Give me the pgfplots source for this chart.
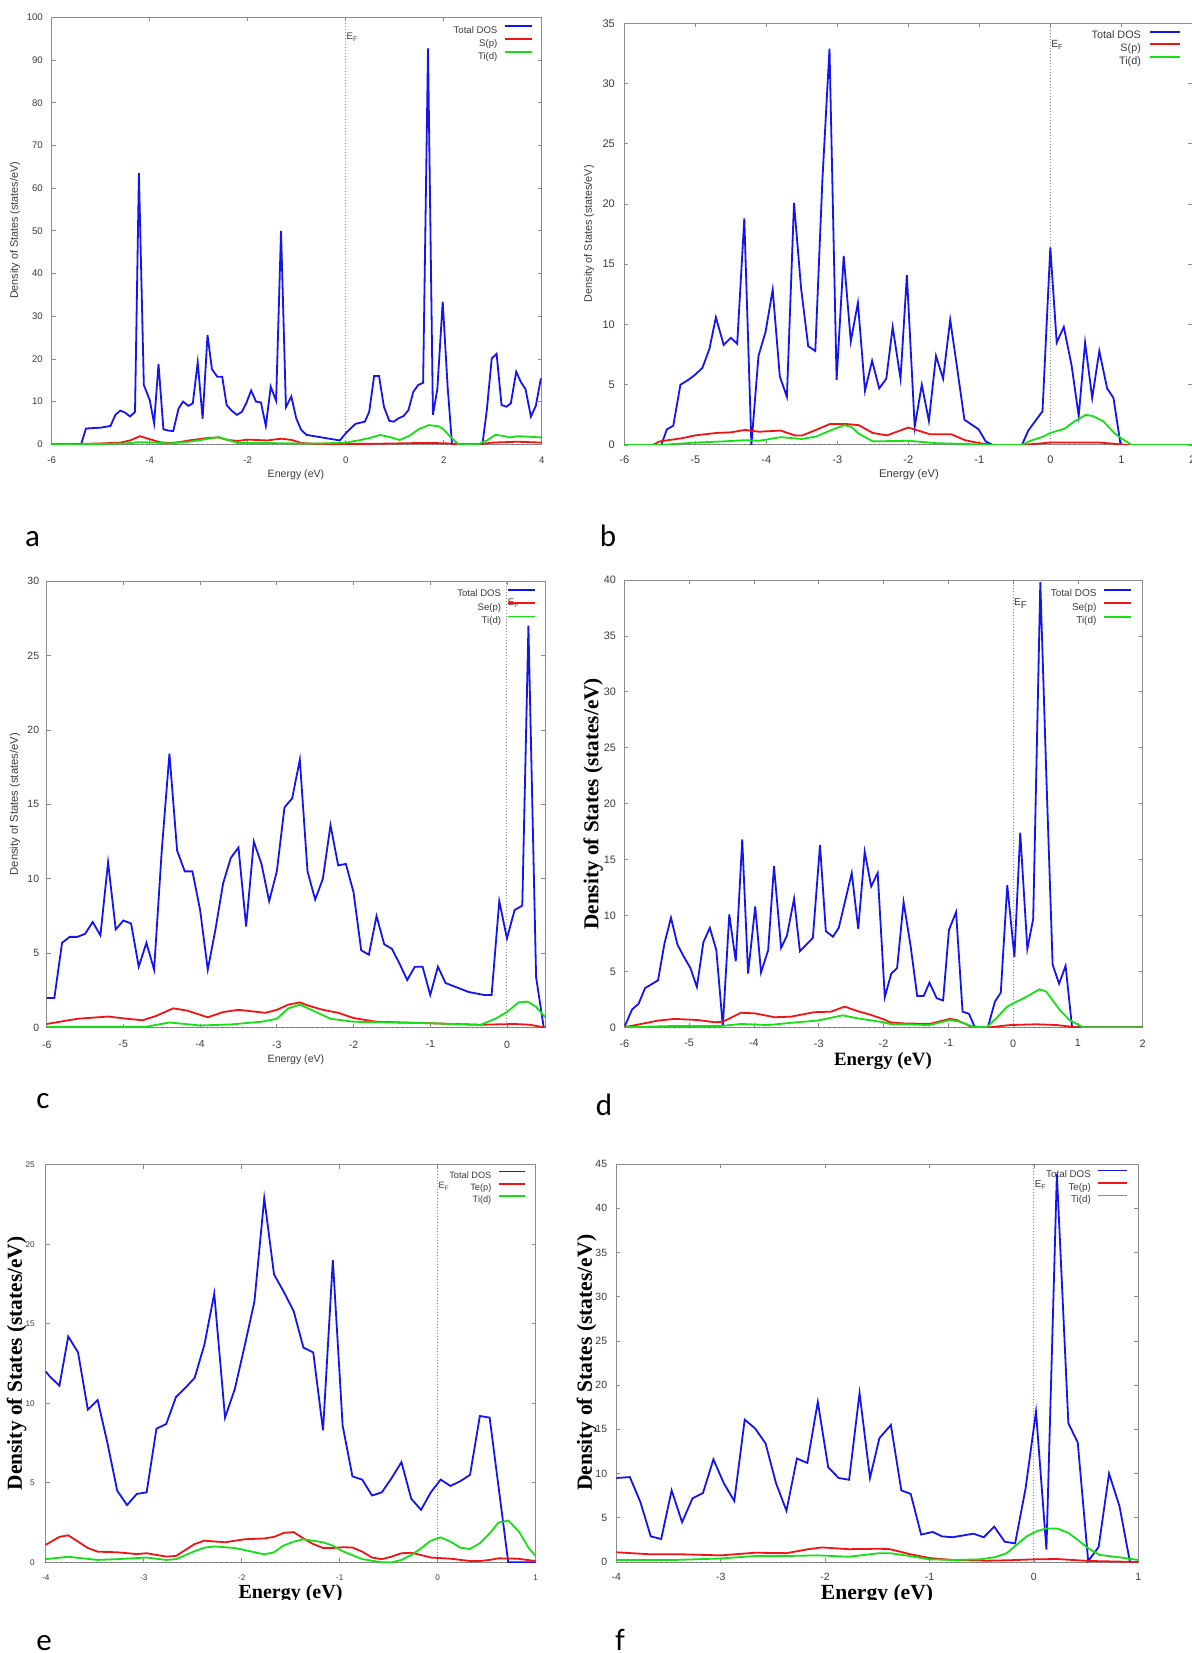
\documentclass[border=0pt]{standalone}
\usepackage{fontspec}
\setmainfont{Liberation Sans}
\newfontfamily\tnr{Liberation Serif}
\newfontfamily\carlito{Carlito}
\usepackage{pgfplots}
\pgfplotsset{compat=1.18}

\definecolor{dosblue}{HTML}{1414F0}
\definecolor{dosred}{HTML}{F01414}
\definecolor{dosgreen}{HTML}{14E014}
\definecolor{framegray}{HTML}{8C8C8C}
\definecolor{ticktext}{HTML}{3A3A3A}

\newcommand{\fs}[1]{\fontsize{#1}{#1}\selectfont}

\pgfplotsset{
  gnu/.style={
    scale only axis, anchor=north west,
    axis line style={draw=framegray, line width=0.5pt},
    every tick/.style={draw=framegray, line width=0.4pt},
    tick align=inside, major tick length=2pt,
    /pgf/number format/assume math mode=true,
    ticklabel style={text=ticktext},
    legend cell align=right, legend plot pos=right,
    legend style={draw=none, fill=none, inner sep=0pt, outer sep=0pt, anchor=north east,
      nodes={inner sep=0pt, text height=0.75em, text depth=0.25em, text=ticktext}},
  },
  gleg/.style n args={6}{
    legend style={at={(#1,#2)}, font=\fs{#3}, column sep=#5, row sep=#6},
    legend image code/.code={\draw[##1, line width=0.9pt] (0pt,0.1em) -- (#4,0.1em);}},
  tot/.style={dosblue, line width=0.9pt},
  pp/.style={dosred, line width=0.9pt},
  td/.style={dosgreen, line width=0.9pt},
  ef/.style={forget plot, framegray, line width=0.5pt, densely dotted},
  zl/.style={forget plot, black!60, line width=0.5pt, dotted},
}

\begin{document}
\begin{tikzpicture}
\useasboundingbox (0pt,0pt) rectangle (596pt,-826.5pt);

% ---------- a : S, -6..4
\begin{axis}[gnu, at={(25.85pt,-8.65pt)}, width=245pt, height=213.5pt,
  xmin=-6, xmax=4, ymin=0, ymax=100,
  xtick={-6,-4,...,4}, ytick={0,10,...,100},
  ticklabel style={font=\fs{4.8}},
  xticklabel style={yshift=-2.6pt}, yticklabel style={xshift=-0.9pt},
  gleg={0.9812}{0.998}{4.8}{13.35pt}{3.3pt}{-3.45pt}]
\addplot[ef] coordinates {(0,0) (0,100)};
\addplot[zl] coordinates {(-6,0) (4,0)};
\addplot[tot] coordinates {(-6,0) (-5.4,0) (-5.3,3.7) (-5.0,3.9) (-4.8,4.3) (-4.7,6.9) (-4.6,7.9) (-4.5,7.4) (-4.4,6.5) (-4.3,7.6) (-4.22,63.5) (-4.12,13.9) (-4.0,10.4) (-3.91,4.9) (-3.82,18.8) (-3.72,3.5) (-3.61,3.2) (-3.52,3.1) (-3.41,8.4) (-3.32,10.0) (-3.21,9.0) (-3.12,9.6) (-3.02,19.2) (-2.92,6.0) (-2.82,25.6) (-2.73,17.6) (-2.62,15.8) (-2.52,15.8) (-2.43,9.2) (-2.33,7.9) (-2.22,6.9) (-2.12,7.6) (-2.03,9.6) (-1.93,12.6) (-1.83,10.0) (-1.73,9.8) (-1.63,4.3) (-1.53,13.5) (-1.42,10.2) (-1.32,50.0) (-1.22,8.7) (-1.11,11.2) (-1.01,6.1) (-0.91,3.4) (-0.80,2.2) (-0.12,0.9) (0.01,2.7) (0.2,4.8) (0.39,5.3) (0.48,7.6) (0.58,16.0) (0.68,16.0) (0.78,8.8) (0.89,5.5) (0.98,5.3) (1.08,6.1) (1.18,6.6) (1.28,8.0) (1.38,12.3) (1.48,13.9) (1.58,14.4) (1.68,92.7) (1.78,6.9) (1.87,12.9) (1.98,33.4) (2.08,13.5) (2.17,0) (2.79,0) (2.88,8.0) (2.98,20.1) (3.08,21.2) (3.18,9.2) (3.28,8.8) (3.37,9.6) (3.48,17.0) (3.57,14.7) (3.67,12.9) (3.78,6.5) (3.88,9.0) (3.98,15.2) (4.0,15.4)};
\addplot[pp] coordinates {(-6,0) (-5.6,0) (-5.4,0.1) (-5.0,0.2) (-4.6,0.4) (-4.4,0.9) (-4.2,1.9) (-4.0,1.2) (-3.8,0.5) (-3.6,0.3) (-3.4,0.5) (-3.2,0.9) (-3.0,1.2) (-2.8,1.5) (-2.6,1.6) (-2.4,1.0) (-2.2,0.8) (-2.0,1.1) (-1.8,1.0) (-1.6,0.9) (-1.4,1.2) (-1.3,1.3) (-1.1,1.0) (-0.9,0.3) (-0.6,0.1) (0,0.1) (0.5,0.1) (1.0,0.2) (1.5,0.3) (1.8,0.3) (2.1,0.2) (2.3,0) (2.7,0) (3.0,0.4) (3.5,0.6) (4.0,0.4)};
\addplot[td] coordinates {(-6,0) (-5.6,0) (-5.0,0.1) (-4.5,0.2) (-4.2,0.5) (-3.9,0.4) (-3.6,0.2) (-3.2,0.6) (-2.9,1.1) (-2.6,1.7) (-2.4,1.0) (-2.2,0.3) (-1.6,0.3) (-1.0,0.2) (-0.5,0.2) (0.0,0.4) (0.3,1.0) (0.5,1.5) (0.7,2.2) (0.9,1.7) (1.1,1.0) (1.3,2.0) (1.5,3.6) (1.7,4.5) (1.9,4.2) (2.0,3.5) (2.1,2.2) (2.3,0) (2.7,0) (2.9,1.0) (3.05,2.2) (3.2,2.0) (3.35,1.6) (3.5,1.9) (3.7,1.8) (4.0,1.6)};
\legend{Total DOS, S(p), Ti(d)}
\node[anchor=west, inner sep=0.3pt, font=\fs{4.8}, text=ticktext] at (axis cs:0,95.4) {E\textsubscript{F}};
\end{axis}

% ---------- b : S, -6..2
\begin{axis}[gnu, at={(312.15pt,-11.65pt)}, width=284pt, height=210.85pt,
  xmin=-6, xmax=2, ymin=0, ymax=35,
  xtick={-6,...,2}, ytick={0,5,...,35},
  ticklabel style={font=\fs{5.5}},
  xticklabel style={yshift=-2pt}, yticklabel style={xshift=-1.2pt},
  gleg={0.9795}{0.9991}{5.4}{15pt}{4pt}{-3.65pt}]
\addplot[ef] coordinates {(0,0) (0,35)};
\addplot[zl] coordinates {(-6,0) (2,0)};
\addplot[tot] coordinates {(-6,0) (-5.48,0) (-5.4,1.3) (-5.31,1.6) (-5.21,5.0) (-5.1,5.4) (-5.01,5.8) (-4.9,6.4) (-4.8,8.0) (-4.71,10.6) (-4.6,8.3) (-4.5,8.9) (-4.41,8.4) (-4.31,18.8) (-4.21,0) (-4.11,7.4) (-4.01,9.4) (-3.91,12.9) (-3.81,5.7) (-3.71,4.0) (-3.61,20.1) (-3.51,13.0) (-3.41,8.2) (-3.31,7.8) (-3.21,22.0) (-3.11,32.9) (-3.01,5.4) (-2.91,15.7) (-2.81,8.6) (-2.71,11.8) (-2.61,4.5) (-2.51,7.0) (-2.41,4.7) (-2.31,5.5) (-2.22,9.8) (-2.11,5.5) (-2.02,14.1) (-1.91,1.5) (-1.81,5.0) (-1.71,2.0) (-1.61,7.4) (-1.51,5.5) (-1.41,10.4) (-1.31,6.3) (-1.21,2.1) (-1.11,1.7) (-1.01,1.3) (-0.91,0.3) (-0.81,0) (-0.40,0) (-0.31,1.2) (-0.21,2.0) (-0.11,2.8) (0.0,16.4) (0.09,8.5) (0.19,9.8) (0.30,6.6) (0.40,2.4) (0.49,8.5) (0.59,3.9) (0.69,7.8) (0.80,4.7) (0.89,3.9) (0.99,0) (2,0)};
\addplot[pp] coordinates {(-6,0) (-5.6,0) (-5.5,0.3) (-5.2,0.55) (-5.0,0.8) (-4.7,1.0) (-4.5,1.05) (-4.3,1.25) (-4.1,1.1) (-3.8,1.2) (-3.6,0.8) (-3.5,0.78) (-3.3,1.25) (-3.1,1.75) (-2.9,1.75) (-2.7,1.65) (-2.5,1.0) (-2.3,0.8) (-2.0,1.45) (-1.7,0.9) (-1.4,0.9) (-1.2,0.4) (-1.0,0.15) (-0.8,0) (-0.4,0) (-0.2,0.1) (0.0,0.2) (0.7,0.2) (1.0,0.05) (1.1,0) (2,0)};
\addplot[td] coordinates {(-6,0) (-5.5,0) (-5.0,0.2) (-4.6,0.3) (-4.3,0.4) (-4.1,0.35) (-3.8,0.65) (-3.5,0.5) (-3.3,0.7) (-3.1,1.2) (-2.9,1.65) (-2.8,1.5) (-2.7,0.95) (-2.5,0.3) (-2.0,0.35) (-1.6,0.15) (-1.0,0.05) (-0.8,0) (-0.4,0) (-0.3,0.3) (-0.1,0.7) (0.0,1.0) (0.2,1.35) (0.35,2.0) (0.5,2.5) (0.6,2.4) (0.75,1.95) (0.9,1.0) (1.0,0.55) (1.15,0) (2,0)};
\legend{Total DOS, S(p), Ti(d)}
\node[anchor=west, inner sep=0.3pt, font=\fs{5.2}, text=ticktext] at (axis cs:0,33.2) {E\textsubscript{F}};
\end{axis}

% ---------- c : Se, -6..0.5
\begin{axis}[gnu, at={(23.35pt,-290.5pt)}, width=249.3pt, height=223.35pt,
  xmin=-6, xmax=0.5, ymin=0, ymax=30,
  xtick={-6,...,0}, ytick={0,5,...,30},
  ticklabel style={font=\fs{5.25}},
  xticklabel style={yshift=-3pt}, yticklabel style={xshift=-0.25pt},
  gleg={0.9805}{0.9982}{4.8}{13.35pt}{3pt}{-3.35pt}]
\addplot[ef] coordinates {(0,0) (0,30)};
\addplot[zl] coordinates {(-6,0) (0.5,0)};
\addplot[tot] coordinates {(-6,2.0) (-5.9,2.0) (-5.8,5.7) (-5.7,6.1) (-5.6,6.1) (-5.5,6.3) (-5.4,7.1) (-5.3,6.2) (-5.2,11.1) (-5.1,6.6) (-5.0,7.2) (-4.9,7.0) (-4.8,4.1) (-4.7,5.7) (-4.6,3.9) (-4.5,11.9) (-4.4,18.4) (-4.3,11.9) (-4.2,10.5) (-4.1,10.5) (-4.0,7.9) (-3.9,3.9) (-3.8,6.6) (-3.7,9.7) (-3.6,11.4) (-3.5,12.1) (-3.4,6.8) (-3.3,12.5) (-3.2,11.0) (-3.1,8.5) (-3.0,10.5) (-2.9,14.8) (-2.8,15.4) (-2.7,18.0) (-2.6,10.5) (-2.5,8.6) (-2.4,10.0) (-2.3,13.6) (-2.2,10.9) (-2.1,11.0) (-2.0,9.1) (-1.9,5.2) (-1.8,4.9) (-1.7,7.5) (-1.6,5.6) (-1.5,5.3) (-1.4,4.3) (-1.3,3.2) (-1.2,4.1) (-1.1,4.1) (-1.0,2.2) (-0.9,4.1) (-0.8,3.0) (-0.7,2.8) (-0.6,2.6) (-0.5,2.4) (-0.4,2.3) (-0.3,2.2) (-0.2,2.2) (-0.1,8.5) (0.0,6.0) (0.1,7.9) (0.2,8.2) (0.28,27.0) (0.38,3.4) (0.48,0) (0.5,0)};
\addplot[pp] coordinates {(-6,0.25) (-5.6,0.6) (-5.2,0.75) (-4.95,0.6) (-4.75,0.5) (-4.57,0.8) (-4.35,1.3) (-4.17,1.15) (-3.9,0.7) (-3.7,1.05) (-3.5,1.2) (-3.15,1.0) (-3.0,1.2) (-2.85,1.55) (-2.7,1.7) (-2.6,1.5) (-2.4,1.2) (-2.2,1.0) (-2.0,0.65) (-1.7,0.4) (-1.0,0.3) (-0.35,0.2) (0.1,0.25) (0.3,0.2) (0.5,0)};
\addplot[td] coordinates {(-6,0.07) (-4.7,0.07) (-4.4,0.35) (-4.0,0.15) (-3.6,0.22) (-3.2,0.4) (-3.0,0.6) (-2.85,1.3) (-2.7,1.55) (-2.55,1.2) (-2.3,0.6) (-2.0,0.4) (-1.0,0.3) (-0.35,0.18) (-0.15,0.6) (0.0,1.05) (0.15,1.7) (0.27,1.75) (0.38,1.4) (0.5,0.7)};
\legend{Total DOS, Se(p), Ti(d)}
\node[anchor=west, inner sep=0.3pt, font=\fs{4.8}, text=ticktext] at (axis cs:0,28.5) {E\textsubscript{F}};
\end{axis}

% ---------- d : Se, -6..2
\begin{axis}[gnu, at={(312.15pt,-290pt)}, width=259.2pt, height=223.65pt,
  xmin=-6, xmax=2, ymin=0, ymax=40,
  xtick={-6,...,2}, ytick={0,5,...,40},
  ticklabel style={font=\fs{5.4}},
  xticklabel style={yshift=-2.6pt}, yticklabel style={xshift=-0.7pt},
  gleg={0.9785}{0.9958}{5.0}{13.5pt}{3.15pt}{-3.25pt}]
\addplot[ef] coordinates {(0,0) (0,40)};
\addplot[zl] coordinates {(-6,0) (2,0)};
\addplot[tot] coordinates {(-6,0) (-5.88,1.6) (-5.78,2.1) (-5.68,3.5) (-5.48,4.2) (-5.38,7.5) (-5.28,9.8) (-5.18,7.4) (-5.08,6.3) (-4.98,5.3) (-4.88,3.6) (-4.78,7.6) (-4.68,8.9) (-4.58,6.9) (-4.48,0.1) (-4.38,10.1) (-4.28,5.9) (-4.18,16.8) (-4.09,4.8) (-3.98,10.8) (-3.89,4.9) (-3.78,6.9) (-3.69,14.4) (-3.58,7.1) (-3.49,8.2) (-3.38,11.5) (-3.29,6.8) (-3.09,8.0) (-2.98,16.3) (-2.89,8.6) (-2.78,8.1) (-2.69,8.9) (-2.49,13.8) (-2.39,8.8) (-2.29,15.7) (-2.19,12.6) (-2.09,13.8) (-1.98,2.7) (-1.88,4.8) (-1.79,5.3) (-1.69,11.2) (-1.58,7.2) (-1.48,2.8) (-1.38,2.8) (-1.29,4.0) (-1.18,2.6) (-1.08,2.4) (-0.99,8.7) (-0.88,10.3) (-0.78,1.4) (-0.68,1.2) (-0.59,0) (-0.39,0) (-0.28,2.3) (-0.19,3.1) (-0.09,12.7) (0.02,6.3) (0.11,17.4) (0.22,7.0) (0.31,9.7) (0.42,39.8) (0.51,23.0) (0.61,5.6) (0.71,3.9) (0.81,5.5) (0.91,0) (2,0)};
\addplot[pp] coordinates {(-6,0) (-5.48,0.6) (-5.22,0.75) (-4.86,0.65) (-4.6,0.45) (-4.48,0.5) (-4.2,1.3) (-3.99,1.25) (-3.68,0.9) (-3.43,0.95) (-3.07,1.35) (-2.81,1.4) (-2.6,1.85) (-2.4,1.45) (-2.19,1.1) (-1.99,0.7) (-1.9,0.45) (-1.7,0.35) (-1.29,0.3) (-0.98,0.75) (-0.87,0.65) (-0.67,0.12) (-0.51,0) (-0.36,0) (-0.05,0.2) (0.36,0.27) (0.67,0.2) (0.98,0) (2,0)};
\addplot[td] coordinates {(-6,0) (-5.22,0.12) (-4.5,0.12) (-4.2,0.3) (-3.78,0.2) (-3.43,0.4) (-3.02,0.6) (-2.63,1.07) (-2.4,0.8) (-2.0,0.45) (-1.9,0.3) (-1.29,0.2) (-0.98,0.65) (-0.82,0.5) (-0.62,0.06) (-0.41,0) (-0.26,0.8) (-0.1,1.8) (0,2.15) (0.15,2.55) (0.41,3.4) (0.51,3.2) (0.72,1.55) (0.87,0.65) (1.08,0) (2,0)};
\legend{Total DOS, Se(p), Ti(d)}
\node[anchor=west, inner sep=0.3pt, font=\fs{5.0}, text=ticktext] at (axis cs:0,37.9) {E\textsubscript{F}};
\end{axis}

% ---------- e : Te, -4..1
\begin{axis}[gnu, at={(22.85pt,-582.35pt)}, width=245pt, height=198.8pt,
  xmin=-4, xmax=1, ymin=0, ymax=25,
  xtick={-4,...,1}, ytick={0,5,...,25},
  ticklabel style={font=\fs{4.1}},
  xticklabel style={yshift=-2.7pt}, yticklabel style={xshift=-2pt},
  gleg={0.979}{1.003}{4.6}{13pt}{3.15pt}{-3.95pt}]
\addplot[ef] coordinates {(0,0) (0,25)};
\addplot[zl] coordinates {(-4,0) (1,0)};
\addplot[tot] coordinates {(-4,12.0) (-3.96,11.7) (-3.86,11.1) (-3.77,14.2) (-3.67,13.2) (-3.57,9.6) (-3.47,10.2) (-3.37,7.5) (-3.27,4.5) (-3.17,3.6) (-3.07,4.3) (-2.97,4.4) (-2.87,8.4) (-2.77,8.7) (-2.67,10.4) (-2.57,11.0) (-2.48,11.6) (-2.38,13.7) (-2.28,16.9) (-2.17,9.1) (-2.07,10.9) (-1.97,13.6) (-1.87,16.4) (-1.77,22.9) (-1.67,18.1) (-1.57,17.0) (-1.47,15.8) (-1.37,13.5) (-1.27,13.2) (-1.17,8.3) (-1.07,19.0) (-0.97,8.6) (-0.87,5.4) (-0.77,5.2) (-0.67,4.2) (-0.57,4.4) (-0.47,5.3) (-0.37,6.3) (-0.27,4.0) (-0.17,3.3) (-0.07,4.4) (0.03,5.2) (0.13,4.8) (0.23,5.1) (0.33,5.5) (0.43,9.2) (0.53,9.1) (0.72,0) (1,0)};
\addplot[pp] coordinates {(-4,1.1) (-3.86,1.6) (-3.77,1.7) (-3.67,1.3) (-3.57,0.9) (-3.47,0.67) (-3.27,0.63) (-3.07,0.52) (-2.97,0.57) (-2.77,0.36) (-2.67,0.4) (-2.48,1.15) (-2.38,1.36) (-2.17,1.26) (-1.97,1.45) (-1.77,1.5) (-1.67,1.6) (-1.57,1.85) (-1.47,1.9) (-1.37,1.5) (-1.27,1.15) (-1.17,0.9) (-1.07,0.9) (-0.97,0.95) (-0.87,0.93) (-0.77,0.67) (-0.67,0.3) (-0.57,0.2) (-0.47,0.36) (-0.37,0.57) (-0.27,0.6) (-0.17,0.46) (-0.07,0.3) (0.13,0.23) (0.33,0.08) (0.43,0.08) (0.53,0.15) (0.62,0.25) (0.81,0.23) (1,0.08)};
\addplot[td] coordinates {(-4,0.2) (-3.77,0.35) (-3.47,0.15) (-3.27,0.2) (-2.97,0.3) (-2.77,0.15) (-2.67,0.2) (-2.48,0.7) (-2.38,0.92) (-2.28,1.0) (-2.07,0.9) (-1.97,0.77) (-1.77,0.5) (-1.67,0.63) (-1.58,1.03) (-1.47,1.3) (-1.37,1.45) (-1.17,1.26) (-1.07,1.05) (-0.97,0.7) (-0.77,0.2) (-0.57,0) (-0.47,0) (-0.37,0.15) (-0.27,0.46) (-0.17,0.88) (-0.07,1.36) (0.03,1.57) (0.13,1.3) (0.23,0.92) (0.33,0.84) (0.43,1.2) (0.53,1.82) (0.62,2.5) (0.72,2.62) (0.83,1.93) (0.93,0.88) (1,0.4)};
\legend{Total DOS, Te(p), Ti(d)}
\node[anchor=west, inner sep=0.3pt, font=\fs{4.6}, text=ticktext] at (axis cs:0,23.65) {E\textsubscript{F}};
\end{axis}

% ---------- f : Te, -4..1
\begin{axis}[gnu, at={(308.15pt,-582pt)}, width=261pt, height=199pt,
  xmin=-4, xmax=1, ymin=0, ymax=45,
  xtick={-4,...,1}, ytick={0,5,...,45},
  ticklabel style={font=\fs{5.25}},
  xticklabel style={yshift=-2pt}, yticklabel style={xshift=-1.05pt},
  gleg={0.981}{1.0038}{4.9}{14.5pt}{3.35pt}{-3.75pt}]
\addplot[ef] coordinates {(0,0) (0,45)};
\addplot[zl] coordinates {(-4,0) (1,0)};
\addplot[tot] coordinates {(-4,9.5) (-3.87,9.6) (-3.77,6.8) (-3.67,2.9) (-3.57,2.6) (-3.47,8.1) (-3.37,4.5) (-3.27,7.2) (-3.17,7.8) (-3.07,11.6) (-2.97,8.9) (-2.87,6.9) (-2.77,16.1) (-2.67,15.1) (-2.57,13.4) (-2.47,8.9) (-2.37,5.8) (-2.27,11.7) (-2.17,11.2) (-2.07,18.1) (-1.97,10.7) (-1.87,9.5) (-1.77,9.3) (-1.67,19.1) (-1.57,9.5) (-1.48,14.0) (-1.37,15.5) (-1.27,8.1) (-1.18,7.7) (-1.08,3.1) (-0.97,3.4) (-0.88,2.9) (-0.78,2.8) (-0.68,3.0) (-0.58,3.2) (-0.48,2.8) (-0.38,4.0) (-0.28,2.3) (-0.18,2.1) (-0.08,8.3) (0.02,17.0) (0.12,1.4) (0.22,43.9) (0.33,15.7) (0.42,13.5) (0.52,0.1) (0.62,1.7) (0.72,10.0) (0.82,6.3) (0.92,0) (1,0)};
\addplot[pp] coordinates {(-4,1.1) (-3.67,0.87) (-3.37,0.87) (-3.0,0.75) (-2.67,1.05) (-2.37,1.0) (-2.16,1.45) (-2.03,1.65) (-1.77,1.45) (-1.48,1.5) (-1.38,1.45) (-1.19,0.9) (-1.0,0.45) (-0.77,0.22) (-0.45,0.15) (-0.23,0.2) (0,0.3) (0.22,0.34) (0.52,0.12) (1,0)};
\addplot[td] coordinates {(-4,0.23) (-3.44,0.23) (-3.0,0.4) (-2.67,0.68) (-2.37,0.68) (-2.07,0.75) (-1.77,0.6) (-1.48,1.0) (-1.38,1.0) (-1.19,0.68) (-1.0,0.3) (-0.77,0.23) (-0.52,0.3) (-0.38,0.53) (-0.26,1.0) (-0.17,1.9) (-0.07,2.9) (0.03,3.5) (0.12,3.8) (0.22,3.8) (0.33,3.3) (0.42,2.5) (0.52,1.55) (0.63,0.8) (0.82,0.53) (1,0.23)};
\legend{Total DOS, Te(p), Ti(d)}
\node[anchor=west, inner sep=0.3pt, font=\fs{4.9}, text=ticktext] at (axis cs:0,42.6) {E\textsubscript{F}};
\end{axis}

% ---------- axis titles
\node[rotate=90, font=\fs{5.4}, text=ticktext] at (7.5pt,-115.25pt) {Density of States (states/eV)};
\node[font=\fs{5.3}, text=ticktext] at (148pt,-237.5pt) {Energy (eV)};
\node[rotate=90, font=\fs{5.4}, text=ticktext] at (294.5pt,-116.85pt) {Density of States (states/eV)};
\node[font=\fs{5.6}, text=ticktext] at (454.5pt,-237.5pt) {Energy (eV)};
\node[rotate=90, font=\fs{5.6}, text=ticktext] at (7.5pt,-402.1pt) {Density of States (states/eV)};
\node[font=\fs{5.3}, text=ticktext] at (148pt,-530pt) {Energy (eV)};
\node[rotate=90, font=\tnr\bfseries\fs{10.6}] at (296.65pt,-401.9pt) {Density of States (states/eV)};
\node[rotate=90, font=\tnr\bfseries\fs{10.7}] at (8.35pt,-681.65pt) {Density of States (states/eV)};
\node[rotate=90, font=\tnr\bfseries\fs{10.8}] at (293.35pt,-681.4pt) {Density of States (states/eV)};
\begin{scope}
\clip (300pt,-500pt) rectangle (596pt,-534pt);
\node[anchor=base, font=\tnr\bfseries\fs{9.4}] at (441.5pt,-532.85pt) {Energy (eV)};
\end{scope}
\begin{scope}
\clip (0pt,-780pt) rectangle (596pt,-799.65pt);
\node[anchor=base, font=\tnr\bfseries\fs{10}] at (145.25pt,-799.1pt) {Energy (eV)};
\node[anchor=base, font=\tnr\bfseries\fs{10.8}] at (438.5pt,-799.65pt) {Energy (eV)};
\end{scope}

% ---------- panel letters
\node[anchor=base, font=\carlito\fs{15.5}] at (16.25pt,-273pt) {a};
\node[anchor=base, font=\carlito\fs{15.5}] at (304pt,-273pt) {b};
\node[anchor=base, font=\carlito\fs{15.5}] at (21.5pt,-554pt) {c};
\node[anchor=base, font=\carlito\fs{15.5}] at (302pt,-557.5pt) {d};
\node[anchor=base, font=\carlito\fs{15.5}] at (22pt,-825pt) {e};
\node[anchor=base, font=\carlito\fs{15.5}] at (310pt,-825pt) {f};
\end{tikzpicture}
\end{document}
